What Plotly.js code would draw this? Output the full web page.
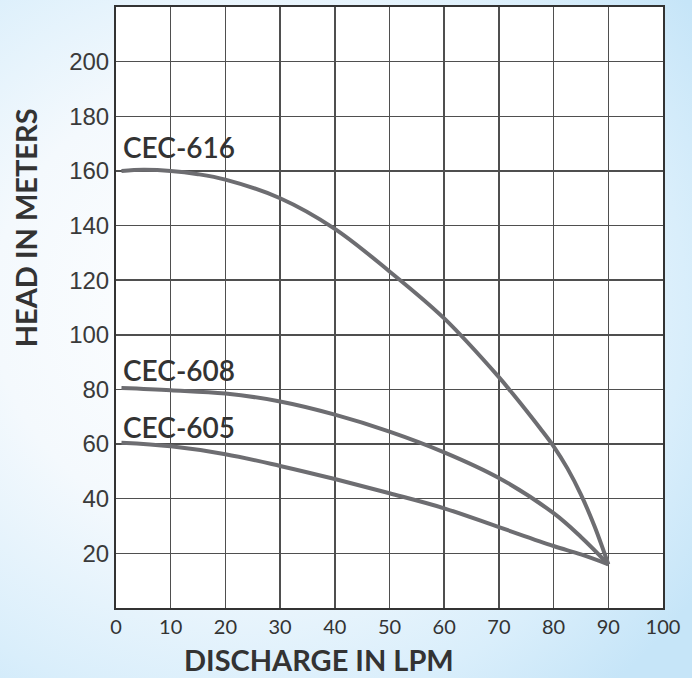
<!DOCTYPE html>
<html>
<head>
<meta charset="utf-8">
<script src="https://cdn.plot.ly/plotly-3.0.1.min.js"></script>
<style>
html,body{margin:0;padding:0;}
body{width:692px;height:678px;background:radial-gradient(ellipse 80% 75% at 35% 45%, #ffffff 0%, #f4f9fd 45%, #d9eefb 80%, #c6e5f8 100%);}
#chart{width:692px;height:678px;}
</style>
</head>
<body>
<div id="chart"></div>
<script>
// Discharge (LPM) and head (m)
const x616 = [1, 5, 10, 15, 20, 30, 40, 50, 60, 70, 72.5, 75, 77.5, 80, 82.5, 85, 87.5, 90];
const y616 = [160, 160.4, 160, 158.8, 156.8, 150, 138.8, 123.2, 106, 84.5, 78.5, 72.3, 65.9, 59.2, 51.2, 41.5, 29.8, 16];
const x608 = [1, 10, 20, 30, 40, 50, 60, 70, 80, 85, 90];
const y608 = [80.5, 79.7, 78.5, 75.6, 70.8, 64.6, 57, 47.6, 34.7, 26, 16];
const x605 = [1, 10, 20, 30, 40, 50, 60, 70, 80, 85, 90];
const y605 = [60.5, 59.2, 56.3, 52, 47.2, 42, 36.5, 29.6, 22.7, 19.6, 16];
const seriesNames = ["CEC-616", "CEC-608", "CEC-605"];
const labelY = [168.8, 87.3, 66.2];
const xTicks = [0, 10, 20, 30, 40, 50, 60, 70, 80, 90, 100];
const yTicks = [20, 40, 60, 80, 100, 120, 140, 160, 180, 200, 220];
const yTickText = ["20", "40", "60", "80", "100", "120", "140", "160", "180", "200", ""];
const xTitle = "DISCHARGE IN LPM";
const yTitle = "HEAD IN METERS";

const lineStyle = {color: "#6d6d71", width: 4, shape: "spline", smoothing: 1};
const xs = [x616, x608, x605], ys = [y616, y608, y605];
const traces = xs.map((xv, i) => ({
  x: xv, y: ys[i], type: "scatter", mode: "lines", name: seriesNames[i],
  line: lineStyle, hoverinfo: "skip"
}));

const labelFont = {family: "Lato, 'Open Sans', sans-serif", size: 28, color: "#333333", weight: 600};
const annotations = seriesNames.map((n, i) => ({
  text: n, x: 0.9, y: labelY[i], xref: "x", yref: "y",
  xanchor: "left", yanchor: "middle", showarrow: false, font: labelFont
}));
const titleFont = {family: "Lato, sans-serif", size: 29, color: "#333333", weight: 700};
annotations.push({
  text: xTitle, xref: "paper", yref: "paper", x: 0.371, y: -0.085,
  xanchor: "center", yanchor: "middle", showarrow: false, font: titleFont
});
annotations.push({
  text: yTitle, xref: "paper", yref: "paper", x: -0.166, y: 0.632,
  xanchor: "center", yanchor: "middle", showarrow: false, textangle: -90,
  font: titleFont
});

const layout = {
  width: 692, height: 678,
  paper_bgcolor: "rgba(0,0,0,0)",
  plot_bgcolor: "#ffffff",
  margin: {l: 116, r: 29, t: 7, b: 70},
  showlegend: false,
  font: {family: "Lato, 'Open Sans', sans-serif", color: "#333333"},
  xaxis: {
    range: [0, 100], tickvals: xTicks, ticktext: xTicks.map(String),
    showgrid: true, gridcolor: "#4f4f4f", gridwidth: 1.5,
    showline: true, linecolor: "#333333", linewidth: 2, mirror: true,
    zeroline: false, ticks: "", ticklen: 0,
    tickfont: {size: 20, color: "#333333", family: "Lato, sans-serif"},
    fixedrange: true
  },
  yaxis: {
    range: [0, 220], tickvals: yTicks, ticktext: yTickText,
    showgrid: true, gridcolor: "#4f4f4f", gridwidth: 1.5,
    showline: true, linecolor: "#333333", linewidth: 2, mirror: true,
    zeroline: false, ticks: "", ticklen: 0,
    tickfont: {size: 24, color: "#3a3a3a", family: "'Liberation Sans', Arial, sans-serif"},
    fixedrange: true
  },
  annotations: annotations
};

Plotly.newPlot("chart", traces, layout, {staticPlot: true, displayModeBar: false});
</script>
</body>
</html>
